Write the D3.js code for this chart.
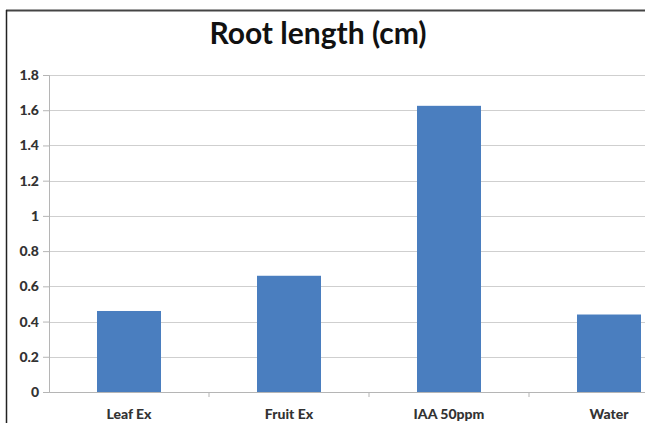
<!DOCTYPE html>
<html>
<head>
<meta charset="utf-8">
<script src="https://cdn.jsdelivr.net/npm/d3@7"></script>
<style>
body { margin:0; background:#fff; }
svg { display:block; }
</style>
</head>
<body>
<svg id="chart"></svg>
<script>
// data
var categories = ["Leaf Ex", "Fruit Ex", "IAA 50ppm", "Water"];
var values = [0.46, 0.66, 1.625, 0.44];
var yTicks = [0, 0.2, 0.4, 0.6, 0.8, 1, 1.2, 1.4, 1.6, 1.8];

var size = { width: 645, height: 423 };
var margin = { top: 75, right: -44, bottom: 31, left: 49 };
var width = size.width - margin.left - margin.right;
var height = size.height - margin.top - margin.bottom;

var font = "Lato, 'Open Sans', sans-serif";

var root = d3.select("#chart")
  .attr("width", size.width)
  .attr("height", size.height);

// chart frame (cropped at right / bottom)
root.append("line").attr("x1", 6).attr("x2", 645).attr("y1", 10.5).attr("y2", 10.5)
  .attr("stroke", "#444").attr("stroke-width", 2);
root.append("line").attr("x1", 6.5).attr("x2", 6.5).attr("y1", 10).attr("y2", 423)
  .attr("stroke", "#222").attr("stroke-width", 1.5);

root.append("text")
  .attr("x", 318).attr("y", 44)
  .attr("text-anchor", "middle")
  .style("font-family", font)
  .style("font-weight", "bold")
  .style("font-size", "30px")
  .attr("fill", "#111")
  .text("Root length (cm)");

var svg = root.append("g")
  .attr("transform", "translate(" + margin.left + "," + margin.top + ")");

var x = d3.scaleBand().domain(categories).range([0, width]).paddingInner(0.6).paddingOuter(0.3);
var y = d3.scaleLinear().domain([0, 1.8]).range([height, 0]);

// gridlines
svg.selectAll(".grid").data(yTicks).enter().append("line")
  .attr("x1", 0).attr("x2", width)
  .attr("y1", function(d){ return Math.round(y(d)) + 0.5; })
  .attr("y2", function(d){ return Math.round(y(d)) + 0.5; })
  .attr("stroke", "#cfcfcf");

// y axis
var yAxis = svg.append("g")
  .call(d3.axisLeft(y).tickValues(yTicks).tickSize(6).tickPadding(4)
    .tickFormat(function(d){ return d3.format("")(+d.toFixed(1)); }));
yAxis.select(".domain").attr("stroke", "#b5b5b5");
yAxis.selectAll(".tick line").attr("stroke", "#b5b5b5");
yAxis.selectAll("text")
  .style("font-family", font)
  .style("font-weight", "900")
  .style("font-size", "14px")
  .attr("fill", "#333");

// bars
svg.selectAll(".bar").data(values).enter().append("rect")
  .attr("x", function(d, i){ return x(categories[i]); })
  .attr("y", function(d){ return y(d); })
  .attr("width", x.bandwidth())
  .attr("height", function(d){ return height - y(d); })
  .attr("fill", "#4a7ebf");

// x axis
var xAxis = svg.append("g")
  .attr("transform", "translate(0," + height + ")")
  .call(d3.axisBottom(x).tickSize(0).tickPadding(17));
xAxis.select(".domain").attr("stroke", "#b5b5b5");
xAxis.selectAll("text")
  .style("font-family", font)
  .style("font-weight", "900")
  .style("font-size", "14px")
  .attr("fill", "#333");
// category separator ticks
xAxis.selectAll(".sep").data(categories.slice(1)).enter().append("line")
  .attr("x1", function(d){ return x(d) - x.step() * x.paddingInner() / 2; })
  .attr("x2", function(d){ return x(d) - x.step() * x.paddingInner() / 2; })
  .attr("y1", 0).attr("y2", 5)
  .attr("stroke", "#b5b5b5");
</script>
</body>
</html>
